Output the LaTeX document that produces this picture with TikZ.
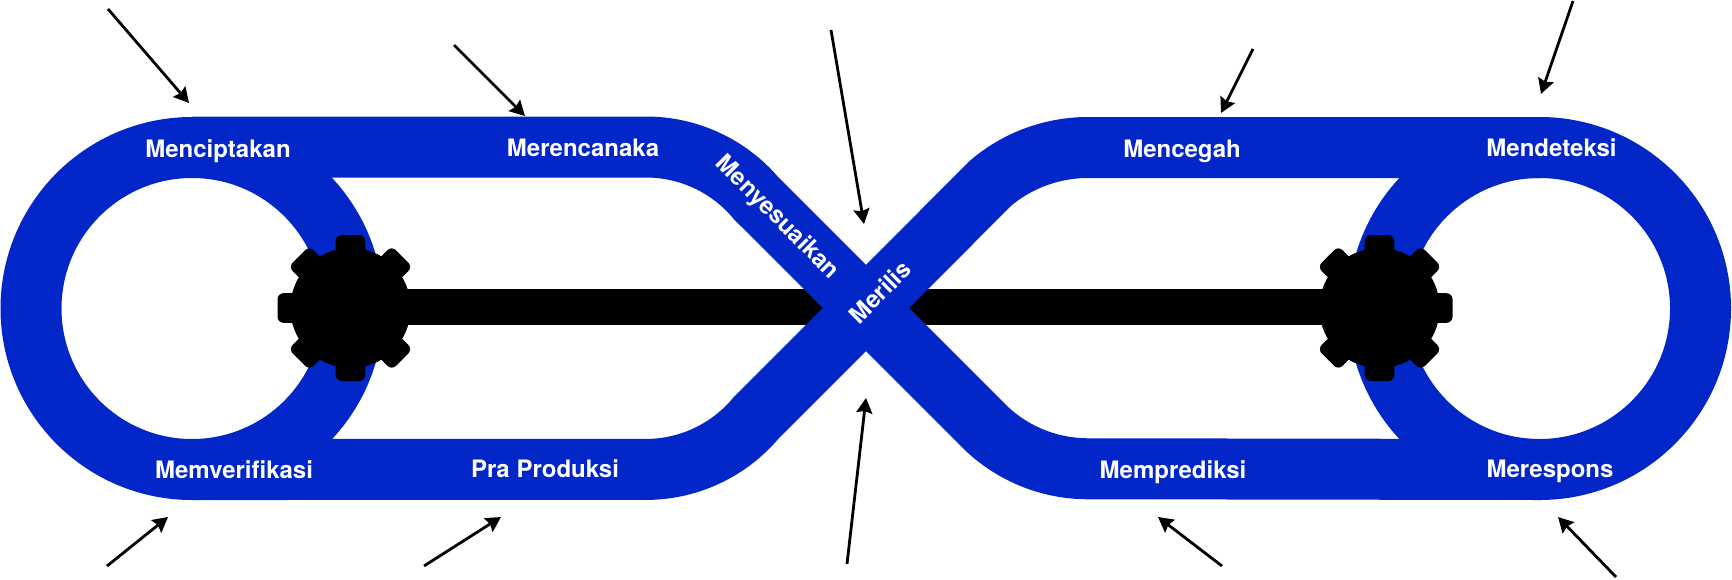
\documentclass[tikz,border=0pt]{standalone}
\usepackage{fontspec}
\setmainfont{TeX Gyre Heros}
\usepackage{xcolor}
\usetikzlibrary{arrows.meta}
\definecolor{bandblue}{HTML}{0226C8}

\tikzset{
    band/.style={draw=bandblue, line width=30.5pt},
    bandtext/.style={text=white, font=\fontsize{12}{14}\selectfont\bfseries, inner sep=0pt, anchor=base},
    pointer/.style={-{Stealth[length=7.5pt,width=8pt,inset=1pt]}, line width=1.4pt},
    gearbody/.style={circle, fill=black, inner sep=0pt, minimum size=60pt},
    shaft/.style={line width=18pt}
}

\begin{document}
\begin{tikzpicture}[x=0.5pt,y=-0.5pt]

    \useasboundingbox (0,0) rectangle (1732,579);

    % Centres
    \coordinate (cross) at (866,308);
    \coordinate (ringleft) at (192,308.5);
    \coordinate (ringright) at (1539.5,308.5);

    % Gears
    \node[gearbody] (gearleft) at (350.5,308){};
    \node[gearbody] (gearright) at (1379.5,308){};

    % Shafts
    \draw[shaft] ([yshift=0.4pt]gearleft.center) -- ([yshift=0.4pt]cross);
    \draw[shaft] ([yshift=0.4pt]gearright.center) -- ([yshift=0.4pt]cross);

    % Rings
    \draw[band] (ringleft) circle [radius=161];
    \draw[band] (ringright) circle [radius=161];

    % Left loop
    \draw[band] (192,147) -- (646,147)
        arc[start angle=-90,end angle=-40,radius=144]
        -- (cross) -- (756,418)
        arc[start angle=40,end angle=90,radius=144]
        -- (192,469.5);

    % Right loop
    \draw[band] (1539.5,147.5) -- (1088,147.5)
        arc[start angle=-90,end angle=-130,radius=151]
        -- (cross) -- (987,429)
        arc[start angle=133,end angle=90,radius=148]
        -- (1539.5,469.5);

    % Gears over the bands
    \node[gearbody] at (gearleft){};
    \node[gearbody] at (gearright){};
    \foreach \ang in {0,45,...,315}{
        \fill[shift={(gearleft)},rotate=\ang,rounded corners=3pt] (40,-14.8) rectangle (73,14.8);
        \fill[shift={(gearright)},rotate=\ang,rounded corners=3pt] (40,-14.8) rectangle (73,14.8);
    }

    % Band labels
    \node[bandtext] (create) at (218,157){Menciptakan};
    \node[bandtext] (plan) at (583,156){Merencanaka};
    \node[bandtext,anchor=center,rotate=-45] (adapt) at (777,218){Menyesuaikan};
    \node[bandtext,anchor=center,rotate=45] (release) at (880,292){Merilis};
    \node[bandtext] (prevent) at (1182,157){Mencegah};
    \node[bandtext] (detect) at (1551.5,156){Mendeteksi};
    \node[bandtext] (verify) at (234,478){Memverifikasi};
    \node[bandtext] (preprod) at (545,477){Pra Produksi};
    \node[bandtext] (predict) at (1173,478){Memprediksi};
    \node[bandtext] (respond) at (1550,477){Merespons};

    % Pointer ends
    \coordinate (fromcreate) at (108,9);
    \coordinate (tocreate) at (189,103);
    \coordinate (fromplan) at (454,45);
    \coordinate (toplan) at (525,116);
    \coordinate (fromadapt) at (831,30);
    \coordinate (toadapt) at (864,224);
    \coordinate (fromprevent) at (1253,49);
    \coordinate (toprevent) at (1221,113);
    \coordinate (fromdetect) at (1573,1);
    \coordinate (todetect) at (1541,94);
    \coordinate (fromverify) at (107,566);
    \coordinate (toverify) at (168,517);
    \coordinate (frompreprod) at (424,566);
    \coordinate (topreprod) at (501,517);
    \coordinate (fromrelease) at (847,564);
    \coordinate (torelease) at (866,398);
    \coordinate (frompredict) at (1222,566);
    \coordinate (topredict) at (1158,517);
    \coordinate (fromrespond) at (1616,577);
    \coordinate (torespond) at (1558,517);

    % Pointers
    \draw[pointer] (fromcreate) -- (tocreate);
    \draw[pointer] (fromplan) -- (toplan);
    \draw[pointer] (fromadapt) -- (toadapt);
    \draw[pointer] (fromprevent) -- (toprevent);
    \draw[pointer] (fromdetect) -- (todetect);
    \draw[pointer] (fromverify) -- (toverify);
    \draw[pointer] (frompreprod) -- (topreprod);
    \draw[pointer] (fromrelease) -- (torelease);
    \draw[pointer] (frompredict) -- (topredict);
    \draw[pointer] (fromrespond) -- (torespond);

\end{tikzpicture}
\end{document}
